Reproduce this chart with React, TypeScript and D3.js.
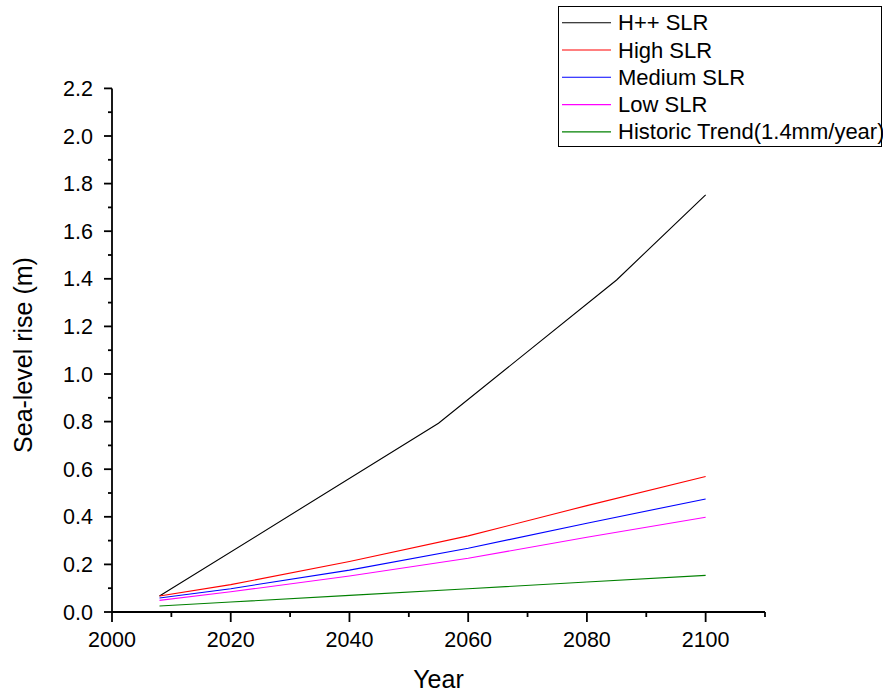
import * as d3 from "d3";

const years = [2008, 2020, 2040, 2060, 2080, 2100];
const hppYears = [2008, 2055, 2085, 2100];
const hppSLR = [0.067, 0.793, 1.395, 1.753];
const highSLR = [0.067, 0.115, 0.212, 0.32, 0.447, 0.569];
const mediumSLR = [0.059, 0.098, 0.176, 0.268, 0.373, 0.475];
const lowSLR = [0.049, 0.085, 0.151, 0.226, 0.314, 0.398];
const historic = [0.025, 0.042, 0.07, 0.098, 0.126, 0.154];

const seriesNames = ["H++ SLR", "High SLR", "Medium SLR", "Low SLR", "Historic Trend(1.4mm/year)"];
const seriesColors = ["#000000", "#ff0000", "#0000ff", "#ff00ff", "#008000"];

const width = 883;
const height = 693;
const font = "Arial, 'Liberation Sans', sans-serif";

const App = () => {
  const x = d3.scaleLinear().domain([2000, 2110]).range([112, 765]);
  const y = d3.scaleLinear().domain([0, 2.2]).range([612, 88.4]);

  const line = d3
    .line<[number, number]>()
    .x(d => x(d[0]))
    .y(d => y(d[1]));

  const series = [
    d3.zip(hppYears, hppSLR),
    d3.zip(years, highSLR),
    d3.zip(years, mediumSLR),
    d3.zip(years, lowSLR),
    d3.zip(years, historic),
  ] as [number, number][][];

  const xTicks = d3.range(2000, 2111, 10);
  const yTicks = d3.range(0, 23).map(i => i / 10);

  return (
    <svg
      width={width}
      height={height}
      style={{ position: "absolute", left: 0, top: 0, background: "#fff" }}
      fontFamily={font}
    >
      {/* data */}
      {series.map((s, i) => (
        <path key={i} d={line(s) || ""} fill="none" stroke={seriesColors[i]} strokeWidth={1.1} />
      ))}

      {/* x axis */}
      <line x1={x(2000)} x2={x(2110)} y1={y(0)} y2={y(0)} stroke="#000" strokeWidth={1.8} />
      {xTicks.map(t => {
        const major = t % 20 === 0 && t <= 2100;
        return (
          <g key={t}>
            <line x1={x(t)} x2={x(t)} y1={y(0)} y2={y(0) + (major ? 10 : 5)} stroke="#000" strokeWidth={1.8} />
            {major && (
              <text x={x(t)} y={647} textAnchor="middle" fontSize={21.5}>
                {t}
              </text>
            )}
          </g>
        );
      })}

      {/* y axis */}
      <line x1={x(2000)} x2={x(2000)} y1={y(0) + 1} y2={y(2.2)} stroke="#000" strokeWidth={1.8} />
      {yTicks.map((t, i) => {
        const major = i % 2 === 0;
        return (
          <g key={i}>
            <line x1={x(2000)} x2={x(2000) - (major ? 8 : 4)} y1={y(t)} y2={y(t)} stroke="#000" strokeWidth={1.8} />
            {major && (
              <text x={93} y={y(t) + 7.5} textAnchor="end" fontSize={21.5}>
                {t.toFixed(1)}
              </text>
            )}
          </g>
        );
      })}

      <text x={438.5} y={688} textAnchor="middle" fontSize={25}>
        Year
      </text>
      <text transform="translate(32,355) rotate(-90)" textAnchor="middle" fontSize={25}>
        Sea-level rise (m)
      </text>

      {/* legend */}
      <rect x={558.5} y={6.5} width={323} height={140} fill="#fff" stroke="#000" strokeWidth={1} />
      {seriesNames.map((name, i) => {
        const ly = 22.7 + i * 27.3;
        return (
          <g key={name}>
            <line x1={562} x2={611} y1={ly} y2={ly} stroke={seriesColors[i]} strokeWidth={1.1} />
            <text x={618} y={ly + 7.5} fontSize={22}>
              {name}
            </text>
          </g>
        );
      })}
    </svg>
  );
};

export default App;
